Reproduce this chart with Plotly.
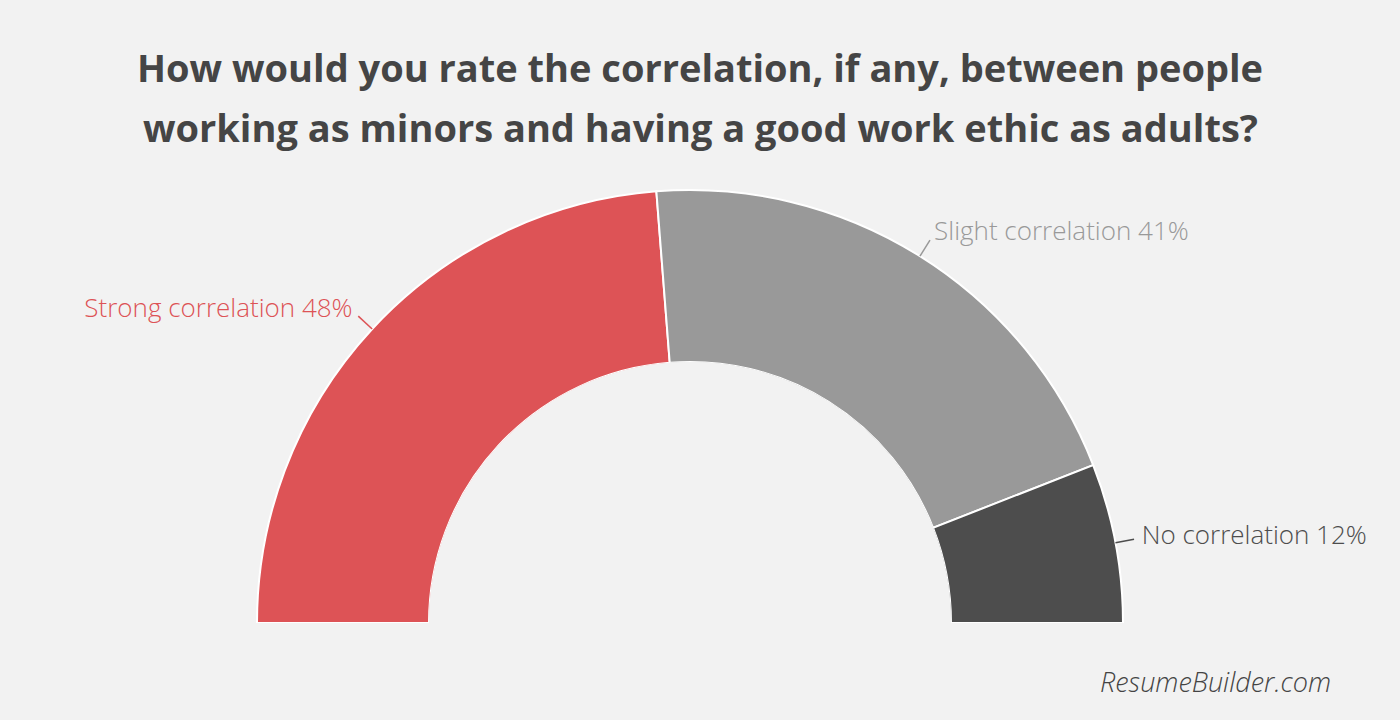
import plotly.graph_objects as go
import numpy as np

categories = ["Strong correlation", "Slight correlation", "No correlation"]
values = [48, 41, 12]
colors = ["#dd5356", "#999999", "#4d4d4d"]
label_colors = ["#dd5356", "#999999", "#4d4d4d"]
title_lines = ["How would you rate the correlation, if any, between people",
               "working as minors and having a good work ethic as adults?"]
source = "ResumeBuilder.com"

total = sum(values)
spans = [v / total * 180 for v in values]
ends = np.cumsum(spans)
mids = [e - s / 2 for e, s in zip(ends, spans)]

RMAX = 1.17
LEAD = 1.11
TXT = 1.155

fig = go.Figure()
fig.add_trace(go.Barpolar(
    r=[1] * len(values), theta=mids, width=spans,
    marker=dict(color=colors, line=dict(color="white", width=2)),
    hoverinfo="skip", showlegend=False,
))

for i, (cat, v) in enumerate(zip(categories, values)):
    fig.add_trace(go.Scatterpolar(
        r=[1.0, LEAD], theta=[mids[i], mids[i]], mode="lines",
        line=dict(color=label_colors[i], width=1.5),
        cliponaxis=False, hoverinfo="skip", showlegend=False,
    ))
    fig.add_trace(go.Scatterpolar(
        r=[TXT], theta=[mids[i]], mode="text",
        text=[f"{cat} {v}%"],
        textposition="middle left" if mids[i] < 90 else "middle right",
        textfont=dict(family="Open Sans", size=26, color=label_colors[i], weight=300),
        cliponaxis=False, hoverinfo="skip", showlegend=False,
    ))

# geometry: centre (690, 623) px, outer bar radius 433 px, inner 261 px
R = 261 + (433 - 261) * RMAX
hole = 261 / R
cx, cy = 690, 623

fig.update_layout(
    width=1400, height=720,
    margin=dict(l=0, r=0, t=0, b=0),
    paper_bgcolor="#f2f2f2", plot_bgcolor="#f2f2f2",
    polar=dict(
        domain=dict(x=[(cx - R) / 1400, (cx + R) / 1400],
                    y=[(720 - cy) / 720, (720 - cy + R) / 720]),
        sector=[0, 180], hole=hole, bgcolor="rgba(0,0,0,0)",
        radialaxis=dict(range=[0, RMAX], visible=False),
        angularaxis=dict(rotation=180, direction="clockwise", visible=False,
                         thetaunit="degrees"),
    ),
    annotations=[
        dict(text=title_lines[0], x=0.5, y=1 - 67 / 720, xref="paper", yref="paper",
             showarrow=False, xanchor="center", yanchor="middle",
             font=dict(family="Open Sans", size=38, color="#454545", weight=700)),
        dict(text=title_lines[1], x=0.5, y=1 - 127 / 720, xref="paper", yref="paper",
             showarrow=False, xanchor="center", yanchor="middle",
             font=dict(family="Open Sans", size=38, color="#454545", weight=700)),
        dict(text=source, x=1333 / 1400, y=1 - 681 / 720, xref="paper", yref="paper",
             showarrow=False, xanchor="right", yanchor="middle",
             font=dict(family="Open Sans", size=27, color="#444444", style="italic", weight=300)),
    ],
)

fig.write_html("out.html")
